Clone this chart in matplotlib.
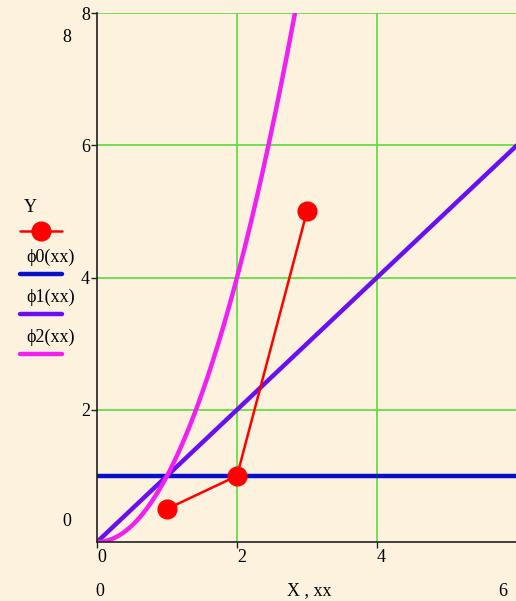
import numpy as np
import matplotlib
matplotlib.use("Agg")
import matplotlib.pyplot as plt
from matplotlib.lines import Line2D

# measured points
X = [1, 2, 3]
Y = [0.5, 1, 5]

# polynomial coefficients (highest power first) of the approximating functions
phi0_coef = [1]
phi1_coef = [1, 0]
phi2_coef = [1, 0, 0]

x_ticks = [0, 2, 4]
y_ticks = [2, 4, 6, 8]
x_lim = (0, 6)
y_lim = (0, 8)

xx = np.linspace(0, 6, 601)

bg = "#fcf2de"
grid_c = "#66dd44"
fam = ["Liberation Serif", "DejaVu Serif"]
fs = 13

W, H = 516, 601
fig = plt.figure(figsize=(W / 100, H / 100), dpi=100, facecolor=bg)
x0, x1 = 97 / W, 517 / W
y0, y1 = (H - 542) / H, (H - 13) / H
ax = fig.add_axes([x0, y0, x1 - x0, y1 - y0])
ax.set_facecolor(bg)
ax.set_xlim(*x_lim)
ax.set_ylim(*y_lim)

for g in [2, 4, 6]:
    ax.axvline(g, color=grid_c, lw=1.3, zorder=1)
for g in [2, 4, 6, 8]:
    ax.axhline(g, color=grid_c, lw=1.3, zorder=1)

ax.plot(xx, np.polyval(phi0_coef, xx) * np.ones_like(xx), color="#0a10c8", lw=3.2, zorder=3)
ax.plot(xx, np.polyval(phi1_coef, xx), color="#6a10f0", lw=3.2, zorder=3)
ax.plot(xx, np.polyval(phi2_coef, xx), color="#f020f0", lw=3.2, zorder=3)
ax.plot(X, Y, color="#ff0000", lw=1.8, marker="o", ms=13.5, mfc="#ff0000", mec="#ff0000", zorder=4)

for s in ["top", "right"]:
    ax.spines[s].set_visible(False)
for s in ["left", "bottom"]:
    ax.spines[s].set_color("#222222")
    ax.spines[s].set_linewidth(1.2)
    ax.spines[s].set_zorder(5)

ax.set_xticks(x_ticks)
ax.set_yticks(y_ticks)
ax.set_xticklabels([str(t) for t in x_ticks], family=fam, fontsize=fs)
ax.set_yticklabels([str(t) for t in y_ticks], family=fam, fontsize=fs)
ax.tick_params(axis="both", direction="out", length=4, width=1, color="#222222", pad=1)
for lbl in ax.get_xticklabels():
    lbl.set_horizontalalignment("left")

# axis range labels
fig.text(67 / W, 1 - 38 / H, str(y_lim[1]), family=fam, fontsize=fs, ha="center", va="center")
fig.text(67 / W, 1 - 522 / H, str(y_lim[0]), family=fam, fontsize=fs, ha="center", va="center")
fig.text(100 / W, 1 - 591 / H, str(x_lim[0]), family=fam, fontsize=fs, ha="center", va="center")
fig.text(503 / W, 1 - 591 / H, str(x_lim[1]), family=fam, fontsize=fs, ha="center", va="center")
fig.text(309 / W, 1 - 591 / H, "X , xx", family=fam, fontsize=fs, ha="center", va="center")

# legend on the left
legend_items = [
    ("Y", "#ff0000", 1.8, True, 208, 231),
    ("ϕ0(xx)", "#0a10c8", 3.2, False, 257, 274),
    ("ϕ1(xx)", "#6a10f0", 3.2, False, 297, 314),
    ("ϕ2(xx)", "#f020f0", 3.2, False, 337, 354),
]
for name, col, lw, mk, ty, ly in legend_items:
    tx = 30 if name == "Y" else 51
    fig.text(tx / W, 1 - ty / H, name, family=fam, fontsize=fs, ha="center", va="center")
    ln = Line2D([20 / W, 62 / W], [1 - ly / H, 1 - ly / H], transform=fig.transFigure,
                color=col, lw=lw, solid_capstyle="round")
    fig.add_artist(ln)
    if mk:
        fig.add_artist(Line2D([41 / W], [1 - ly / H], transform=fig.transFigure,
                              marker="o", ms=13.5, color=col, lw=0))

fig.savefig("out.png", dpi=100, facecolor=bg)
